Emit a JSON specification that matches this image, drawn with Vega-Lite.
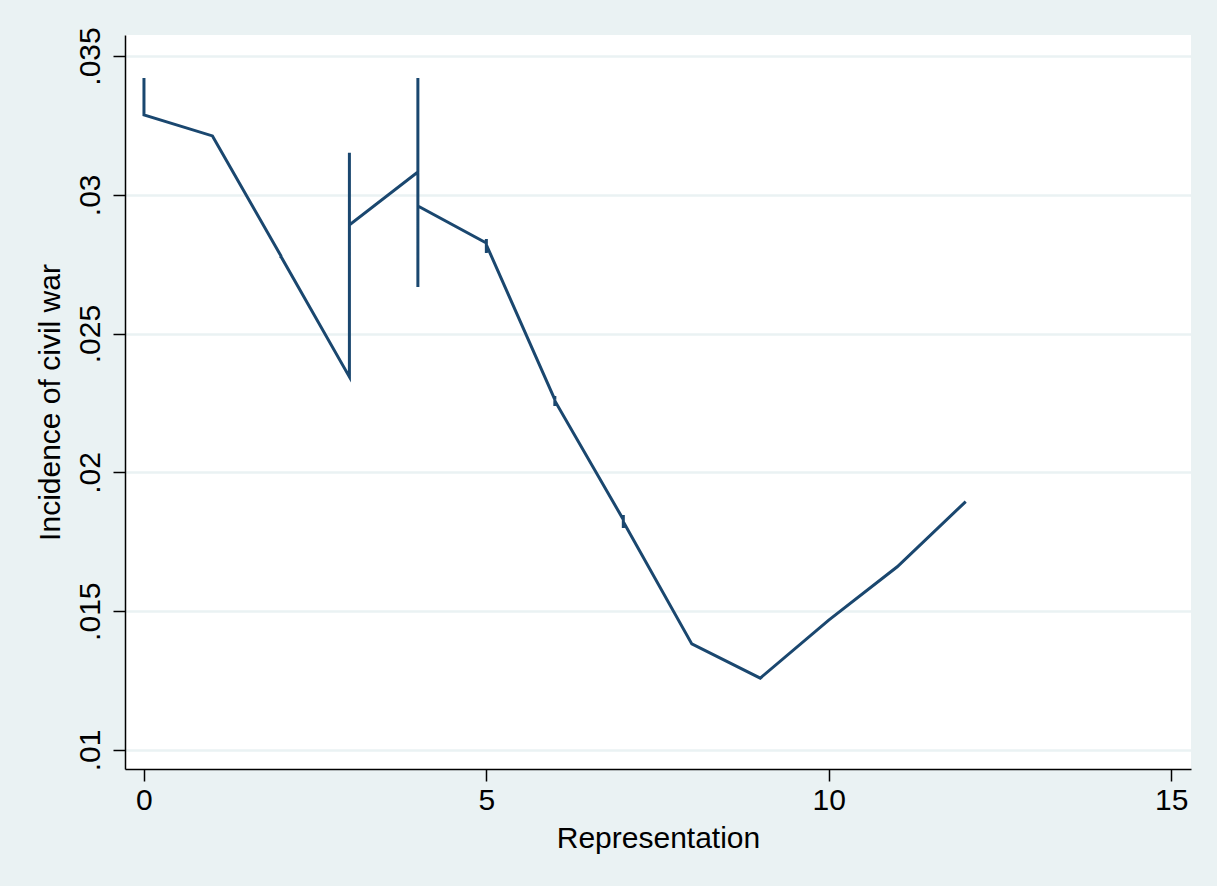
{
  "$schema": "https://vega.github.io/schema/vega-lite/v6.json",
  "width": 1066,
  "height": 734,
  "autosize": {"type": "none"},
  "padding": {"left": 125, "top": 35, "right": 26, "bottom": 117},
  "background": "#EAF2F3",
  "config": {
    "view": {"fill": "white", "stroke": null},
    "font": "Liberation Sans",
    "axis": {
      "domainColor": "black",
      "domainWidth": 1.5,
      "tickColor": "black",
      "tickWidth": 1.5,
      "tickSize": 12,
      "labelColor": "black",
      "titleColor": "black",
      "labelFontSize": 30,
      "titleFontSize": 30,
      "titleFontWeight": "normal",
      "labelFont": "Liberation Sans",
      "titleFont": "Liberation Sans"
    }
  },
  "data": {
    "values": [
      {"i": 1, "rep": 0, "inc": 0.03421},
      {"i": 2, "rep": 0, "inc": 0.03288},
      {"i": 3, "rep": 1, "inc": 0.03212},
      {"i": 4, "rep": 2, "inc": 0.02780},
      {"i": 5, "rep": 2, "inc": 0.02772},
      {"i": 6, "rep": 2, "inc": 0.02778},
      {"i": 7, "rep": 3, "inc": 0.02344},
      {"i": 8, "rep": 3, "inc": 0.03151},
      {"i": 9, "rep": 3, "inc": 0.02891},
      {"i": 10, "rep": 4, "inc": 0.03082},
      {"i": 11, "rep": 4, "inc": 0.03421},
      {"i": 12, "rep": 4, "inc": 0.02668},
      {"i": 13, "rep": 4, "inc": 0.02960},
      {"i": 14, "rep": 5, "inc": 0.02826},
      {"i": 15, "rep": 5, "inc": 0.02841},
      {"i": 16, "rep": 5, "inc": 0.02790},
      {"i": 17, "rep": 5, "inc": 0.02820},
      {"i": 18, "rep": 6, "inc": 0.02262},
      {"i": 19, "rep": 6, "inc": 0.02275},
      {"i": 20, "rep": 6, "inc": 0.02239},
      {"i": 21, "rep": 6, "inc": 0.02258},
      {"i": 22, "rep": 7, "inc": 0.01830},
      {"i": 23, "rep": 7, "inc": 0.01847},
      {"i": 24, "rep": 7, "inc": 0.01800},
      {"i": 25, "rep": 7, "inc": 0.01822},
      {"i": 26, "rep": 8, "inc": 0.01382},
      {"i": 27, "rep": 9, "inc": 0.01259},
      {"i": 28, "rep": 10, "inc": 0.01468},
      {"i": 29, "rep": 11, "inc": 0.01660},
      {"i": 30, "rep": 12, "inc": 0.01895}
    ]
  },
  "mark": {"type": "line", "color": "#1A476F", "strokeWidth": 3, "strokeJoin": "miter", "strokeCap": "butt"},
  "encoding": {
    "x": {
      "field": "rep",
      "type": "quantitative",
      "scale": {"domain": [-0.277, 15.29], "nice": false, "zero": false},
      "axis": {
        "values": [0, 5, 10, 15],
        "grid": false,
        "title": "Representation",
        "labelPadding": 4,
        "titlePadding": 8,
        "labelFlush": false
      }
    },
    "y": {
      "field": "inc",
      "type": "quantitative",
      "scale": {"domain": [0.009316, 0.035756], "nice": false, "zero": false},
      "axis": {
        "values": [0.01, 0.015, 0.02, 0.025, 0.03, 0.035],
        "labelExpr": "replace(format(datum.value, '.3~f'), '0.', '.')",
        "labelAngle": -90,
        "labelAlign": "center",
        "labelBaseline": "alphabetic",
        "labelPadding": 14,
        "labelFlush": false,
        "grid": true,
        "gridColor": "#EAF2F3",
        "gridWidth": 2.5,
        "title": "Incidence of civil war",
        "titlePadding": 10
      }
    },
    "order": {"field": "i", "type": "quantitative"}
  }
}
